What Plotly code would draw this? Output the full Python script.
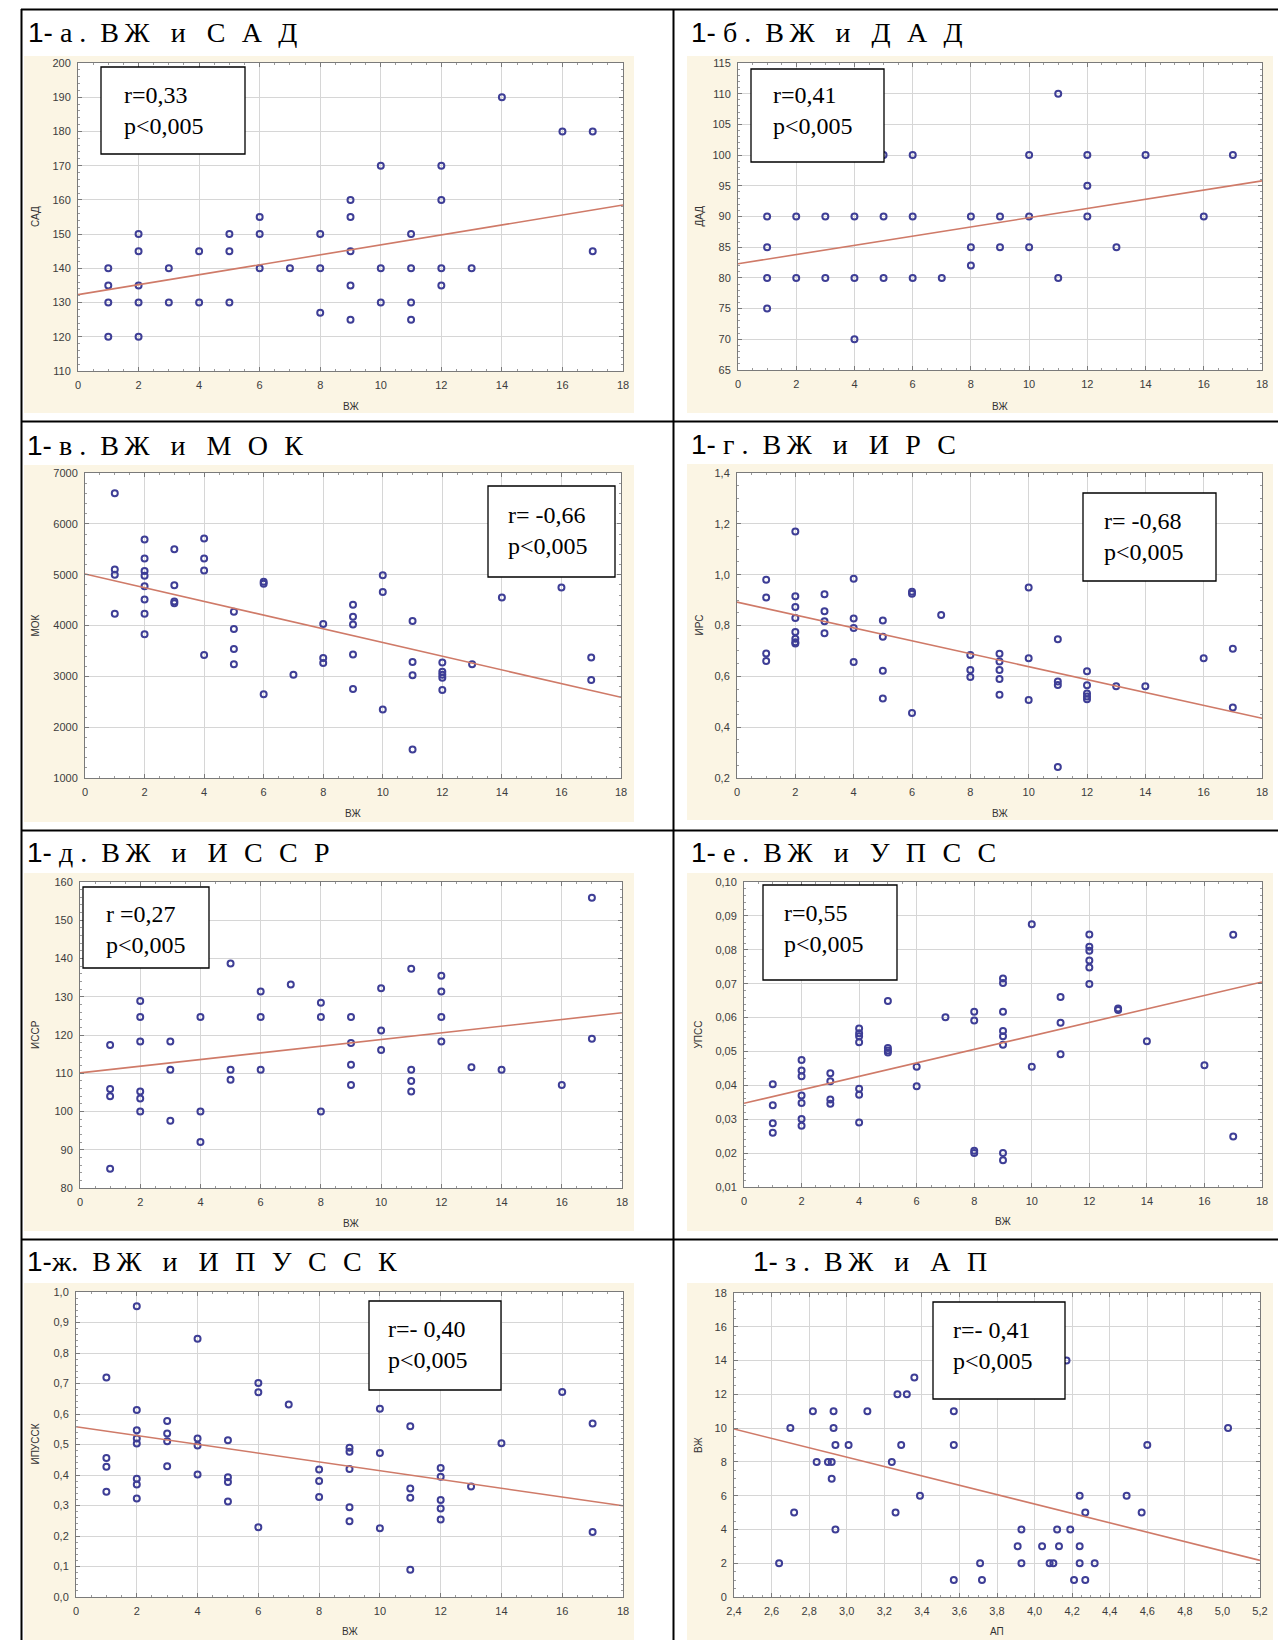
import plotly.graph_objects as go

W, H = 1278, 1640

# ---------------- data ----------------
# 1-а  ВЖ vs САД
a_x = [1,1,1,1, 2,2,2,2,2, 3,3, 4,4, 5,5,5, 6,6,6, 7, 8,8,8, 9,9,9,9,9, 10,10,10, 11,11,11,11, 12,12,12,12, 13, 14, 16, 17,17]
a_y = [140,135,130,120, 150,145,135,130,120, 140,130, 145,130, 150,145,130, 155,150,140, 140, 150,140,127,
       160,155,145,135,125, 170,140,130, 150,140,130,125, 170,160,140,135, 140, 190, 180, 180,145]
a_fit = [132.3, 158.5]

# 1-б  ВЖ vs ДАД
b_x = [1,1,1,1, 2,2, 3,3, 4,4,4, 5,5,5, 6,6,6, 7, 8,8,8, 9,9, 10,10,10, 11,11, 12,12,12, 13, 14, 16, 17]
b_y = [90,85,80,75, 90,80, 90,80, 90,80,70, 100,90,80, 100,90,80, 80, 90,85,82, 90,85, 100,90,85, 110,80,
       100,95,90, 85, 100, 90, 100]
b_fit = [82.3, 95.8]

# 1-в  ВЖ vs МОК
c_x = [1,1,1,1, 2,2,2,2,2,2,2,2, 3,3,3,3, 4,4,4,4, 5,5,5,5, 6,6,6, 7, 8,8,8, 9,9,9,9,9, 10,10,10,
       11,11,11,11, 12,12,12,12,12, 13, 14, 16, 17,17]
c_y = [6600,5100,5000,4230, 5690,5320,5070,4980,4770,4510,4230,3830, 5500,4790,4470,4440, 5710,5320,5080,3420,
       4270,3930,3540,3240, 4860,4820,2650, 3030, 4030,3360,3260, 4410,4170,4020,3430,2750, 4990,4660,2350,
       4090,3280,3020,1560, 3270,3090,3030,2970,2730, 3240, 4550, 4750, 3370,2930]
c_fit = [5013, 2587]

# 1-г  ВЖ vs ИРС
d_x = [1,1,1,1, 2,2,2,2,2,2,2,2, 3,3,3,3, 4,4,4,4, 5,5,5,5, 6,6,6, 7, 8,8,8, 9,9,9,9,9, 10,10,10,
       11,11,11,11, 12,12,12,12,12, 13, 14, 16, 17,17]
d_y = [0.98,0.91,0.69,0.66, 1.17,0.915,0.873,0.83,0.774,0.748,0.734,0.729, 0.923,0.856,0.817,0.77,
       0.984,0.828,0.79,0.656, 0.82,0.756,0.622,0.513, 0.933,0.925,0.456, 0.841, 0.684,0.625,0.597,
       0.689,0.658,0.625,0.59,0.528, 0.95,0.671,0.507, 0.746,0.58,0.566,0.243, 0.62,0.565,0.532,0.521,0.51,
       0.561, 0.561, 0.671, 0.709,0.477]
d_fit = [0.892, 0.435]

# 1-д  ВЖ vs ИССР
e_x = [1,1,1,1, 2,2,2,2,2,2, 3,3,3, 4,4,4, 5,5,5, 6,6,6, 7, 8,8,8, 9,9,9,9, 10,10,10, 11,11,11,11,
       12,12,12,12, 13, 14, 16, 17,17]
e_y = [117.4,105.9,104.0,85.0, 128.9,124.7,118.3,105.2,103.4,100.0, 118.3,110.9,97.6, 124.7,100.0,92.0,
       138.7,110.9,108.3, 131.4,124.7,110.9, 133.2, 128.4,124.7,100.0, 124.7,117.9,112.2,106.9,
       132.2,121.2,116.1, 137.3,110.9,108.0,105.2, 135.5,131.4,124.7,118.3, 111.6, 110.9, 106.9, 155.9,119.0]
e_fit = [110.1, 125.8]

# 1-е  ВЖ vs УПСС
f_x = [1,1,1,1, 2,2,2,2,2,2,2, 3,3,3,3, 4,4,4,4,4,4,4, 5,5,5,5, 6,6, 7, 8,8,8,8, 9,9,9,9,9,9,9,9,
       10,10, 11,11,11, 12,12,12,12,12,12, 13,13, 14, 16, 17,17]
f_y = [0.0403,0.0341,0.0288,0.0260, 0.0475,0.0444,0.0427,0.0370,0.0348,0.0301,0.0281,
       0.0436,0.0412,0.0358,0.0346, 0.0568,0.0554,0.0545,0.0527,0.0390,0.0372,0.0290,
       0.0649,0.0510,0.0503,0.0497, 0.0455,0.0397, 0.0601, 0.0617,0.0591,0.0207,0.0200,
       0.0715,0.0702,0.0617,0.0560,0.0545,0.0520,0.0200,0.0179, 0.0875,0.0455, 0.0661,0.0585,0.0492,
       0.0845,0.0809,0.0797,0.0768,0.0748,0.0699, 0.0627,0.0622, 0.0530, 0.0459, 0.0844,0.0249]
f_fit = [0.0347, 0.0705]

# 1-ж  ВЖ vs ИПУССК
g_x = [1,1,1,1, 2,2,2,2,2,2,2,2, 3,3,3,3, 4,4,4,4, 5,5,5,5, 6,6,6, 7, 8,8,8, 9,9,9,9,9, 10,10,10,
       11,11,11,11, 12,12,12,12,12, 13, 14, 16, 17,17]
g_y = [0.720,0.456,0.427,0.345, 0.953,0.613,0.547,0.520,0.503,0.388,0.369,0.323, 0.577,0.536,0.511,0.429,
       0.847,0.520,0.497,0.402, 0.514,0.393,0.377,0.313, 0.702,0.671,0.229, 0.631, 0.418,0.380,0.328,
       0.489,0.476,0.420,0.294,0.248, 0.617,0.472,0.225, 0.560,0.356,0.325,0.089, 0.423,0.394,0.318,0.290,0.254,
       0.362, 0.504, 0.672, 0.569,0.213]
g_fit = [0.558, 0.299]

# 1-з  АП vs ВЖ
h_x = [2.64,2.70,2.72,2.82,2.84, 2.90,2.92,2.92,2.93,2.93, 2.94,2.94,3.01,3.11,3.24, 3.27,3.26,3.29,3.32,3.36,
       3.39,3.57,3.57,3.57,3.71, 3.72,3.91,3.93,3.93,4.04, 4.08,4.10,4.12,4.13,4.17, 4.19,4.21,4.24,4.24,4.24,
       4.27,4.27,4.32,4.49,4.57, 4.60,5.03]
h_y = [2,10,5,11,8, 8,8,7,10,11, 9,4,9,11,8, 12,5,9,12,13, 6,11,9,1,2, 1,3,4,2,3, 2,2,4,3,14, 4,1,6,3,2,
       5,1,2,6,5, 9,10]
h_fit = [9.95, 2.17]

titles = ["1- а . ВЖ и САД", "1- б . ВЖ и ДАД", "1- в . ВЖ и МОК", "1- г . ВЖ и ИРС",
          "1- д . ВЖ и ИССР", "1- е . ВЖ и УПСС", "1-ж. ВЖ и ИПУССК", "1- з . ВЖ и АП"]
y_titles = ["САД", "ДАД", "МОК", "ИРС", "ИССР", "УПСС", "ИПУССК", "ВЖ"]
x_titles = ["ВЖ", "ВЖ", "ВЖ", "ВЖ", "ВЖ", "ВЖ", "ВЖ", "АП"]
r_texts = ["r=0,33", "r=0,41", "r= -0,66", "r= -0,68", "r =0,27", "r=0,55", "r=- 0,40", "r=- 0,41"]
p_text = "p<0,005"

# ---------------- layout geometry (pixels) ----------------
xs = [a_x, b_x, c_x, d_x, e_x, f_x, g_x, h_x]
ys = [a_y, b_y, c_y, d_y, e_y, f_y, g_y, h_y]
fits = [a_fit, b_fit, c_fit, d_fit, e_fit, f_fit, g_fit, h_fit]
x_ranges = [[0, 18]] * 7 + [[2.4, 5.2]]
x_dticks = [2] * 7 + [0.2]
x_fmt = [""] * 7 + [".1f"]
y_ranges = [[110, 200], [65, 115], [1000, 7000], [0.2, 1.4], [80, 160], [0.01, 0.10], [0, 1.0], [0, 18]]
y_dticks = [10, 5, 1000, 0.2, 10, 0.01, 0.1, 2]
y_fmt = ["", "", "", ".1f", "", ".2f", ".1f", ""]

plots = [(78, 623, 63, 371), (738, 1262, 63, 370), (85, 621, 473, 778), (737, 1262, 473, 778),
         (80, 622, 882, 1188), (744, 1262, 882, 1187), (76, 623, 1292, 1597), (734, 1260, 1293, 1597)]
beige = [(24, 634, 56, 413), (687, 1273, 56, 413), (24, 634, 465, 822), (687, 1273, 464, 820),
         (24, 634, 873, 1231), (687, 1273, 873, 1231), (24, 634, 1283, 1640), (687, 1273, 1283, 1640)]
title_pos = [(26, 32), (689, 32), (25, 445), (689, 444), (25, 852), (689, 852), (25, 1261), (751, 1261)]
boxes = [(101, 67, 245, 154), (751, 69, 884, 162), (488, 486, 615, 577), (1083, 493, 1216, 581),
         (83, 887, 209, 968), (763, 885, 897, 980), (369, 1301, 501, 1390), (933, 1302, 1065, 1399)]
box_text = [(122, 111), (771, 111), (506, 531), (1102, 536), (104, 930), (782, 929), (386, 1344), (951, 1345)]
ytitle_x = [35, 699, 35, 699, 35, 698, 35, 698]
xtitle_y = [406, 406, 813, 813, 1223, 1221, 1631, 1631]


def px(v):
    return v / W


def py(v):
    return 1 - v / H


def fmt_title(t):
    # split "1- а . ВЖ и САД" into parts and widen the letter spacing
    head, rest = t.split(" ВЖ и ")
    head = head.replace("1-", "").strip()
    abbr = "\u2002\u200a".join(list(rest))
    return ('<span style="font-family:Liberation Sans">1-</span>'
            + ("\u00a0" if not head.startswith("ж") else "")
            + head.replace(" ", "\u00a0")
            + "\u00a0\u00a0В\u2009Ж\u2002\u00a0и\u2002\u00a0" + abbr)


fig = go.Figure()
shapes = []
annotations = []
MARK = "#3E3E96"
FIT = "#CF7A68"

for i in range(8):
    n = i + 1
    xa = "x" if n == 1 else f"x{n}"
    ya = "y" if n == 1 else f"y{n}"
    fig.add_trace(go.Scatter(x=xs[i], y=ys[i], mode="markers", xaxis=xa, yaxis=ya,
                             marker=dict(symbol="circle-open", size=6, color=MARK, line=dict(width=2, color=MARK)),
                             showlegend=False, hoverinfo="x+y"))
    fig.add_trace(go.Scatter(x=x_ranges[i], y=fits[i], mode="lines", xaxis=xa, yaxis=ya,
                             line=dict(color=FIT, width=1.6), showlegend=False, hoverinfo="skip"))
    l, r, t, b = plots[i]
    axis_common = dict(showgrid=True, gridcolor="#D6D6D6", gridwidth=1, zeroline=False,
                       showline=True, linecolor="#7A7A7A", linewidth=1, mirror="ticks",
                       ticks="inside", ticklen=4, tickcolor="#7A7A7A",
                       minor=dict(ticks="inside", ticklen=2, tickcolor="#9A9A9A", showgrid=False),
                       tickfont=dict(family="Liberation Sans", size=11, color="#3C3C3C"),
                       automargin=False, fixedrange=True, ticklabelstandoff=4)
    xk = "xaxis" if n == 1 else f"xaxis{n}"
    yk = "yaxis" if n == 1 else f"yaxis{n}"
    fig.layout[xk] = dict(domain=[px(l), px(r)], anchor=ya, range=x_ranges[i], dtick=x_dticks[i],
                          tick0=x_ranges[i][0], tickformat=x_fmt[i], **axis_common)
    fig.layout[yk] = dict(domain=[py(b), py(t)], anchor=xa, range=y_ranges[i], dtick=y_dticks[i],
                          tick0=y_ranges[i][0], tickformat=y_fmt[i], **axis_common)

    bl, br, bt, bb = beige[i]
    shapes.append(dict(type="rect", xref="paper", yref="paper", x0=px(bl), x1=px(br), y0=py(bb), y1=py(bt),
                       fillcolor="#FBF5E4", line=dict(width=0), layer="below"))
    shapes.append(dict(type="rect", xref="paper", yref="paper", x0=px(l), x1=px(r), y0=py(b), y1=py(t),
                       fillcolor="white", line=dict(width=0), layer="below"))
    x0, y0, x1, y1 = boxes[i]
    shapes.append(dict(type="rect", xref="paper", yref="paper", x0=px(x0), x1=px(x1), y0=py(y1), y1=py(y0),
                       fillcolor="white", line=dict(width=1.3, color="black"), layer="above"))
    tx, ty = box_text[i]
    annotations.append(dict(xref="paper", yref="paper", x=px(tx), y=py(ty), xanchor="left", yanchor="middle",
                            align="left", showarrow=False,
                            text=r_texts[i] + "<br>" + p_text.replace("<", "&lt;"),
                            font=dict(family="Liberation Serif", size=24, color="black")))
    ttx, tty = title_pos[i]
    annotations.append(dict(xref="paper", yref="paper", x=px(ttx), y=py(tty), xanchor="left", yanchor="middle",
                            showarrow=False, text=fmt_title(titles[i]),
                            font=dict(family="Liberation Serif", size=28, color="black")))
    annotations.append(dict(xref="paper", yref="paper", x=px(ytitle_x[i]), y=py((t + b) / 2),
                            xanchor="center", yanchor="middle", textangle=-90, showarrow=False,
                            text=y_titles[i], font=dict(family="Liberation Sans", size=10, color="#333333")))
    annotations.append(dict(xref="paper", yref="paper", x=px((l + r) / 2), y=py(xtitle_y[i]),
                            xanchor="center", yanchor="middle", showarrow=False,
                            text=x_titles[i], font=dict(family="Liberation Sans", size=10, color="#333333")))

# table rules
LW = 2
for yy in [9.5, 421.5, 830.5, 1239.5]:
    shapes.append(dict(type="line", xref="paper", yref="paper", x0=px(21), x1=1, y0=py(yy), y1=py(yy),
                       line=dict(color="black", width=LW), layer="above"))
for xx in [21.5, 673.5]:
    shapes.append(dict(type="line", xref="paper", yref="paper", x0=px(xx), x1=px(xx), y0=py(9), y1=0,
                       line=dict(color="black", width=LW), layer="above"))

fig.update_layout(width=W, height=H, margin=dict(l=0, r=0, t=0, b=0), paper_bgcolor="white",
                  plot_bgcolor="rgba(0,0,0,0)", separators=", ", shapes=shapes, annotations=annotations,
                  font=dict(family="Liberation Sans"))

fig.write_html("out.html")
